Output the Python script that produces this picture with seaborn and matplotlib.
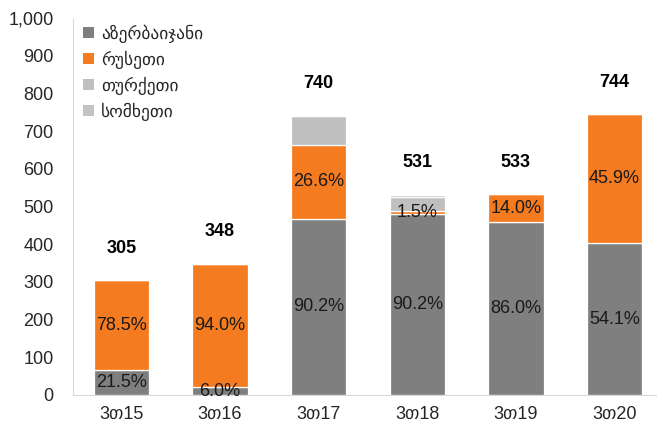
import matplotlib
matplotlib.use("Agg")
import matplotlib.pyplot as plt
import seaborn as sns
import numpy as np
from matplotlib.patches import Patch
from matplotlib.ticker import FuncFormatter

categories = ["3თ15", "3თ16", "3თ17", "3თ18", "3თ19", "3თ20"]
azerbaijan = [65.6, 20.9, 467, 479, 458, 402.5]
russia = [239.4, 327.1, 197, 8, 75, 341.5]
turkey = [0, 0, 76, 38, 0, 0]
armenia = [0, 0, 0, 6, 0, 0]
totals = [305, 348, 740, 531, 533, 744]
az_labels = ["21.5%", "6.0%", "90.2%", "90.2%", "86.0%", "54.1%"]
ru_labels = ["78.5%", "94.0%", "26.6%", "1.5%", "14.0%", "45.9%"]
series_names = ["აზერბაიჯანი", "რუსეთი", "თურქეთი", "სომხეთი"]
colors = ["#7F7F7F", "#F47B20", "#BFBFBF", "#C3C3C3"]

sns.set_style("white")
plt.rcParams["font.family"] = ["Liberation Sans", "DejaVu Sans"]

fig = plt.figure(figsize=(6.57, 4.30), dpi=100)
ax = fig.add_axes([0.111, 0.0814, 0.889, 0.877])

series = [azerbaijan, russia, turkey, armenia]
bottom = np.zeros(len(categories))
for name, vals, col in zip(series_names, series, colors):
    sns.barplot(x=categories, y=vals, bottom=bottom, color=col, width=0.56,
                edgecolor="white", linewidth=0.9, ax=ax, errorbar=None,
                saturation=1)
    bottom = bottom + np.array(vals)

# segment labels
for i in range(len(categories)):
    ax.text(i, azerbaijan[i] / 2, az_labels[i], ha="center", va="center",
            fontsize=13, color="#1a1a1a")
    ax.text(i, azerbaijan[i] + russia[i] / 2, ru_labels[i], ha="center",
            va="center", fontsize=13, color="#1a1a1a")
    ax.annotate(f"{totals[i]}", xy=(i, totals[i]), xytext=(0, 23),
                textcoords="offset points", ha="center", va="center",
                fontsize=13, fontweight="bold", color="black")

ax.set_ylim(0, 1000)
ax.set_xlim(-0.49, 5.43)
ax.set_yticks(np.arange(0, 1001, 100))
ax.yaxis.set_major_formatter(FuncFormatter(lambda v, p: f"{int(v):,}"))
ax.tick_params(axis="y", length=0, pad=14, labelsize=13)
ax.tick_params(axis="x", length=0, pad=8, labelsize=13)
ax.set_xlabel("")
ax.set_ylabel("")
for s in ["top", "right"]:
    ax.spines[s].set_visible(False)
ax.spines["left"].set_color("#D9D9D9")
ax.spines["bottom"].set_color("#D9D9D9")

handles = [Patch(facecolor=c, edgecolor="none") for c in colors]
leg = ax.legend(handles, series_names, loc="upper left",
                bbox_to_anchor=(0.0, 1.01), frameon=False, fontsize=12.5,
                handlelength=0.6, handleheight=0.6, handletextpad=0.4,
                labelspacing=0.45, borderaxespad=0.2)

fig.savefig("out.png", dpi=100)
